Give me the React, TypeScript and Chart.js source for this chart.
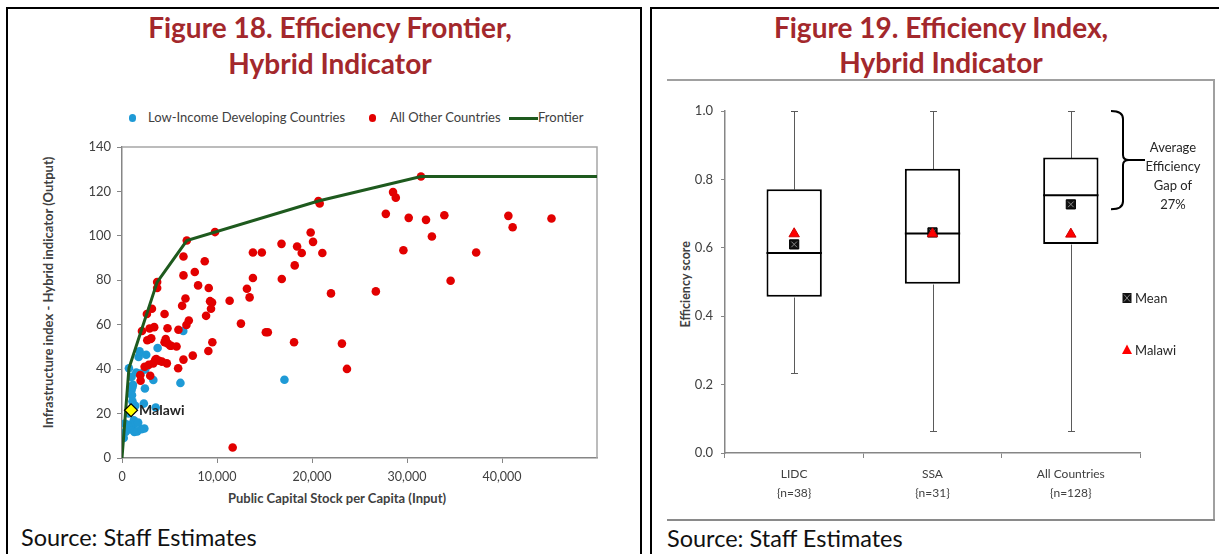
import React, { useEffect, useRef } from 'react';
import { Chart, registerables } from 'chart.js';

Chart.register(...registerables);

const FONT = 'Lato, "Noto Sans", sans-serif';
const TITLE_RED = '#A3282C';
const TEXT = '#404040';

// ---------- Figure 18 data ----------
const lidcX = [290, 180, 380, 490, 600, 730, 840, 1000, 1010, 1050, 1100, 1150, 1190, 1250, 1300, 1400, 1450, 1500, 1600, 1750, 1850, 1950, 2050, 2300, 2350, 2410, 2450, 2550, 3300, 3550, 3750, 6150, 6450, 17100, 1100, 700, 1700];
const lidcY = [15.5, 9, 11.7, 12.5, 15, 40.4, 14.8, 36.5, 30.6, 28.3, 25.5, 33, 12.5, 17, 11.7, 23.5, 15.8, 38.5, 12, 45.5, 48, 38, 13, 24.5, 13.3, 31.3, 39.9, 46.5, 35.1, 22.7, 49.5, 33.8, 57.2, 35.2, 32, 20, 16];

const otherX = [1920, 1960, 2100, 2380, 2620, 2660, 2800, 2900, 2970, 3010, 3150, 3290, 3390, 3600, 3700, 3700, 3900, 4200, 4480, 4480, 4600, 4720, 4790, 4800, 5180, 5740, 5910, 5940, 6330, 6470, 6470, 6470, 6680, 6780, 6820, 7030, 7450, 7660, 8010, 8710, 8850, 9090, 9130, 9270, 9370, 9480, 9510, 9790, 11330, 11650, 12520, 13150, 13430, 13780, 13780, 14720, 15140, 15350, 16790, 16820, 18110, 18180, 18430, 18920, 19860, 20110, 20670, 20810, 21090, 22000, 23150, 23680, 26720, 27770, 28530, 28820, 29620, 30180, 31470, 32000, 32620, 33930, 34590, 37280, 40670, 41120, 45210, 3080, 5080, 3500];
const otherY = [37.3, 34.8, 57.2, 41.1, 64.8, 53, 41.9, 58.3, 37, 53.6, 67.2, 42.6, 58.9, 44.5, 79.2, 76.5, 43.8, 43.4, 64.8, 52.1, 53.5, 42.6, 58.4, 51.6, 50.5, 50.2, 40.4, 57.7, 68.5, 44.3, 82.2, 90.7, 71.8, 59.9, 97.9, 61.9, 46.1, 83.7, 77.7, 88.6, 64, 48.2, 76.5, 70.6, 67.2, 70, 52.1, 101.7, 70.8, 4.7, 60.5, 76.2, 72.3, 81, 92.5, 92.5, 56.6, 56.6, 96.4, 80.6, 52.1, 86.7, 95.2, 92.3, 101.5, 97.3, 115.7, 114.6, 92.3, 74.1, 51.5, 40.1, 75, 109.9, 119.7, 117.2, 93.5, 108.1, 126.7, 107.2, 99.7, 109.3, 79.8, 92.5, 109, 103.9, 107.8, 53.9, 50.5, 44.2];

const frontierX = [0, 730, 3700, 6820, 20670, 31470, 50000];
const frontierY = [0, 40.4, 79.2, 97.9, 115.7, 126.7, 126.7];

const malawiX = [950];
const malawiY = [21.5];

const legend18 = ['Low-Income Developing Countries', 'All Other Countries', 'Frontier'];

// ---------- Figure 19 data ----------
const boxCategories = [['LIDC', '{n=38}'], ['SSA', '{n=31}'], ['All Countries', '{n=128}']];
const boxMin = [0.234, 0.064, 0.064];
const boxQ1 = [0.457, 0.495, 0.611];
const boxMedian = [0.585, 0.642, 0.754];
const boxQ3 = [0.771, 0.831, 0.864];
const boxMax = [1.0, 1.0, 1.0];
const boxMean = [0.61, 0.645, 0.727];
const malawiScore = [0.641, 0.641, 0.64];
const gapText = ['Average', 'Efficiency', 'Gap of', '27%'];
const gapRange = [1.0, 0.713];

// ---------- layout constants ----------
const C18 = { left: 60, top: 130, width: 560, height: 360 };
const C19 = { left: 660, top: 95, width: 560, height: 420 };

function Txt(props: { x: number; y: number; text: string; size: number; weight?: number; color?: string; align?: 'left' | 'center' }) {
  const { x, y, text, size, weight = 400, color = '#222', align = 'left' } = props;
  const top = y - 0.887 * size;
  const style: React.CSSProperties = {
    position: 'absolute',
    top,
    fontFamily: FONT,
    fontSize: size,
    fontWeight: weight,
    color,
    lineHeight: `${size}px`,
    whiteSpace: 'nowrap',
  };
  if (align === 'center') {
    style.left = x - 300;
    style.width = 600;
    style.textAlign = 'center';
  } else {
    style.left = x;
  }
  return <div style={style}>{text}</div>;
}

function VTxt(props: { cx: number; cy: number; text: string; size: number }) {
  const { cx, cy, text, size } = props;
  return (
    <div
      style={{
        position: 'absolute',
        left: cx - 250,
        top: cy - size / 2,
        width: 500,
        height: size,
        lineHeight: `${size}px`,
        textAlign: 'center',
        fontFamily: FONT,
        fontSize: size,
        fontWeight: 700,
        color: TEXT,
        transform: 'rotate(-90deg)',
        transformOrigin: '50% 50%',
        whiteSpace: 'nowrap',
      }}
    >
      {text}
    </div>
  );
}

function Box(props: { l: number; t: number; w: number; h: number; bg: string; r?: number }) {
  return (
    <div
      style={{
        position: 'absolute',
        left: props.l,
        top: props.t,
        width: props.w,
        height: props.h,
        background: props.bg,
        borderRadius: props.r || 0,
      }}
    />
  );
}

export default function App() {
  const ref18 = useRef<HTMLCanvasElement>(null);
  const ref19 = useRef<HTMLCanvasElement>(null);

  useEffect(() => {
    // ---------------- Figure 18 ----------------
    const plotFrame = {
      id: 'plotFrame',
      beforeDatasetsDraw(chart: any) {
        const { ctx, chartArea } = chart;
        ctx.save();
        ctx.strokeStyle = '#a6a6a6';
        ctx.lineWidth = 1.5;
        ctx.beginPath();
        ctx.moveTo(chartArea.left, chartArea.top);
        ctx.lineTo(chartArea.right, chartArea.top);
        ctx.lineTo(chartArea.right, chartArea.bottom);
        ctx.stroke();
        ctx.restore();
      },
    };
    const malawiLabel = {
      id: 'malawiLabel',
      afterDatasetsDraw(chart: any) {
        const meta = chart.getDatasetMeta(0);
        const el = meta.data[0];
        if (!el) return;
        const ctx = chart.ctx;
        ctx.save();
        ctx.font = `700 14px ${FONT}`;
        ctx.fillStyle = '#262626';
        ctx.textBaseline = 'middle';
        ctx.textAlign = 'left';
        ctx.fillText('Malawi', el.x + 8, el.y + 0.5);
        ctx.restore();
      },
    };

    const chart18 = new Chart(ref18.current as HTMLCanvasElement, {
      type: 'scatter',
      data: {
        datasets: [
          {
            label: 'Malawi',
            data: malawiX.map((x, i) => ({ x, y: malawiY[i] })),
            pointStyle: 'rectRot',
            pointRadius: 6.5,
            backgroundColor: '#FFFF00',
            borderColor: '#000000',
            borderWidth: 1.2,
            order: 0,
          },
          {
            label: legend18[2],
            data: frontierX.map((x, i) => ({ x, y: frontierY[i] })),
            showLine: true,
            borderColor: '#1E5A1E',
            backgroundColor: '#1E5A1E',
            borderWidth: 3,
            pointRadius: 0,
            order: 1,
          },
          {
            label: legend18[1],
            data: otherX.map((x, i) => ({ x, y: otherY[i] })),
            backgroundColor: '#E20000',
            borderColor: '#E20000',
            borderWidth: 0,
            pointRadius: 4.3,
            order: 2,
          },
          {
            label: legend18[0],
            data: lidcX.map((x, i) => ({ x, y: lidcY[i] })),
            backgroundColor: '#1E9AD6',
            borderColor: '#1E9AD6',
            borderWidth: 0,
            pointRadius: 4.3,
            order: 3,
          },
        ],
      } as any,
      options: {
        responsive: false,
        animation: false,
        events: [],
        layout: { padding: { top: 17, right: 23, left: 0, bottom: 0 } },
        plugins: { legend: { display: false }, tooltip: { enabled: false } },
        scales: {
          x: {
            type: 'linear',
            min: 0,
            max: 50000,
            afterFit: (s: any) => {
              s.height = 32;
            },
            ticks: {
              stepSize: 10000,
              color: TEXT,
              font: { family: FONT, size: 12.5 },
              padding: 6,
              maxRotation: 0,
              callback: (v: any) => (v >= 50000 ? '' : Number(v).toLocaleString('en-US')),
            },
            grid: {
              drawOnChartArea: false,
              drawTicks: true,
              tickLength: 5,
              color: (c: any) => (c.tick && c.tick.value >= 50000 ? 'rgba(0,0,0,0)' : '#868686'),
            },
            border: { display: true, color: '#868686', width: 1.5 },
          },
          y: {
            type: 'linear',
            min: 0,
            max: 140,
            afterFit: (s: any) => {
              s.width = 62;
            },
            ticks: {
              stepSize: 20,
              color: TEXT,
              font: { family: FONT, size: 13 },
              padding: 6,
            },
            grid: { drawOnChartArea: false, drawTicks: true, tickLength: 5, color: '#868686' },
            border: { display: true, color: '#868686', width: 1.5 },
          },
        },
      } as any,
      plugins: [plotFrame, malawiLabel],
    });

    // ---------------- Figure 19 ----------------
    const boxExtras = {
      id: 'boxExtras',
      beforeDatasetsDraw(chart: any) {
        const { ctx } = chart;
        const xs = chart.scales.x;
        const ys = chart.scales.y;
        ctx.save();
        ctx.strokeStyle = '#5a5a5a';
        ctx.lineWidth = 1;
        boxMin.forEach((mn, i) => {
          const cx = Math.round(xs.getPixelForValue(i)) + 0.5;
          const segs: number[][] = [
            [cx, ys.getPixelForValue(mn), cx, ys.getPixelForValue(boxQ1[i])],
            [cx - 3.5, ys.getPixelForValue(mn), cx + 3.5, ys.getPixelForValue(mn)],
            [cx, ys.getPixelForValue(boxQ3[i]), cx, ys.getPixelForValue(boxMax[i])],
            [cx - 3.5, ys.getPixelForValue(boxMax[i]), cx + 3.5, ys.getPixelForValue(boxMax[i])],
          ];
          segs.forEach(([a, b, c, d]) => {
            ctx.beginPath();
            ctx.moveTo(a, Math.round(b) + 0.5);
            ctx.lineTo(c, Math.round(d) + 0.5);
            ctx.stroke();
          });
        });
        ctx.restore();
      },
      afterDatasetDraw(chart: any, args: any) {
        if (args.index !== 0) return;
        const { ctx } = chart;
        const xs = chart.scales.x;
        const ys = chart.scales.y;
        const meta = chart.getDatasetMeta(0);
        ctx.save();
        ctx.strokeStyle = '#000';
        ctx.lineWidth = 2;
        boxMedian.forEach((md, i) => {
          const el = meta.data[i];
          const cx = xs.getPixelForValue(i);
          const hw = el.width / 2;
          const py = ys.getPixelForValue(md);
          ctx.beginPath();
          ctx.moveTo(cx - hw, py);
          ctx.lineTo(cx + hw, py);
          ctx.stroke();
        });
        ctx.restore();
      },
      afterDraw(chart: any) {
        const { ctx } = chart;
        const ys = chart.scales.y;
        const ca = chart.chartArea;
        ctx.save();
        // bracket
        const yTop = ys.getPixelForValue(gapRange[0]);
        const yBot = ys.getPixelForValue(gapRange[1]);
        const yMid = (yTop + yBot) / 2;
        const xEnd = ca.right - 29;
        const xV = ca.right - 17;
        const xTip = ca.right + 5;
        ctx.strokeStyle = '#000';
        ctx.lineWidth = 2;
        ctx.beginPath();
        ctx.moveTo(xEnd, yTop);
        ctx.quadraticCurveTo(xV, yTop, xV, yTop + 8);
        ctx.lineTo(xV, yMid - 5);
        ctx.quadraticCurveTo(xV, yMid, xV + 6, yMid);
        ctx.lineTo(xTip, yMid);
        ctx.moveTo(xV + 6, yMid);
        ctx.quadraticCurveTo(xV, yMid, xV, yMid + 5);
        ctx.lineTo(xV, yBot - 8);
        ctx.quadraticCurveTo(xV, yBot, xEnd, yBot);
        ctx.stroke();
        // bracket text
        ctx.fillStyle = '#262626';
        ctx.font = `400 13px ${FONT}`;
        ctx.textAlign = 'center';
        ctx.textBaseline = 'middle';
        gapText.forEach((t, i) => {
          ctx.fillText(t, ca.right + 33, yTop + 36.7 + i * 19.2);
        });
        // legend
        const lx = ca.right - 13;
        const lyMean = 203;
        const lyMal = 255;
        ctx.fillStyle = '#111';
        ctx.fillRect(lx - 4.5, lyMean - 5, 9, 10);
        ctx.strokeStyle = '#888';
        ctx.lineWidth = 1;
        ctx.beginPath();
        ctx.moveTo(lx - 3, lyMean - 3.5);
        ctx.lineTo(lx + 3, lyMean + 3.5);
        ctx.moveTo(lx + 3, lyMean - 3.5);
        ctx.lineTo(lx - 3, lyMean + 3.5);
        ctx.stroke();
        ctx.fillStyle = '#FF0000';
        ctx.beginPath();
        ctx.moveTo(lx, lyMal - 5.5);
        ctx.lineTo(lx + 5, lyMal + 4);
        ctx.lineTo(lx - 5, lyMal + 4);
        ctx.closePath();
        ctx.fill();
        ctx.fillStyle = '#262626';
        ctx.textAlign = 'left';
        ctx.fillText('Mean', lx + 8, lyMean + 0.5);
        ctx.fillText('Malawi', lx + 8, lyMal + 0.5);
        ctx.restore();
      },
    };

    const chart19 = new Chart(ref19.current as HTMLCanvasElement, {
      type: 'bar',
      data: {
        labels: boxCategories,
        datasets: [
          {
            type: 'bar',
            label: 'Box',
            data: boxQ1.map((q, i) => [q, boxQ3[i]]),
            backgroundColor: '#ffffff',
            borderColor: '#000000',
            borderWidth: 2,
            borderSkipped: false,
            barPercentage: 0.4,
            categoryPercentage: 1,
            order: 4,
          },
          {
            type: 'line',
            label: 'Mean',
            data: boxMean,
            showLine: false,
            pointStyle: 'rect',
            pointRadius: 6.5,
            backgroundColor: '#111111',
            borderColor: '#000000',
            borderWidth: 1,
            order: 3,
          },
          {
            type: 'line',
            label: 'MeanX',
            data: boxMean,
            showLine: false,
            pointStyle: 'crossRot',
            pointRadius: 4,
            borderColor: '#8a8a8a',
            borderWidth: 1,
            order: 2,
          },
          {
            type: 'line',
            label: 'Malawi',
            data: malawiScore,
            showLine: false,
            pointStyle: 'triangle',
            pointRadius: 6,
            backgroundColor: '#FF0000',
            borderColor: '#D00000',
            borderWidth: 1,
            order: 1,
          },
        ],
      } as any,
      options: {
        responsive: false,
        animation: false,
        events: [],
        layout: { padding: { top: 16, right: 80, left: 0, bottom: 0 } },
        plugins: { legend: { display: false }, tooltip: { enabled: false } },
        scales: {
          x: {
            afterFit: (s: any) => {
              s.height = 62;
            },
            ticks: {
              color: TEXT,
              font: { family: FONT, size: 12, lineHeight: 1.55 },
              padding: 7,
              maxRotation: 0,
            },
            grid: { drawOnChartArea: false, drawTicks: true, tickLength: 5, color: '#868686', offset: true },
            border: { display: true, color: '#868686', width: 1.5 },
          },
          y: {
            min: 0,
            max: 1,
            afterFit: (s: any) => {
              s.width = 65;
            },
            ticks: {
              stepSize: 0.2,
              color: TEXT,
              font: { family: FONT, size: 13 },
              padding: 8,
              callback: (v: any) => Number(v).toFixed(1),
            },
            grid: { drawOnChartArea: false, drawTicks: true, tickLength: 4, color: '#868686' },
            border: { display: true, color: '#868686', width: 1.5 },
          },
        },
      } as any,
      plugins: [boxExtras],
    });

    return () => {
      chart18.destroy();
      chart19.destroy();
    };
  }, []);

  return (
    <div
      style={{
        position: 'fixed',
        left: 0,
        top: 0,
        width: 1219,
        height: 554,
        background: '#ffffff',
        overflow: 'hidden',
      }}
    >
      {/* panel borders */}
      <Box l={6} t={7} w={2} h={547} bg="#000" />
      <Box l={6} t={7} w={636} h={2} bg="#000" />
      <Box l={640} t={7} w={2} h={547} bg="#000" />
      <Box l={650} t={7} w={2} h={547} bg="#000" />
      <Box l={650} t={7} w={569} h={2} bg="#000" />
      {/* right chart frame */}
      <Box l={667} t={79} w={548} h={2} bg="#a0a0a0" />
      <Box l={1213} t={79} w={2} h={442} bg="#a0a0a0" />
      <Box l={667} t={519} w={548} h={2} bg="#8a8a8a" />

      {/* titles */}
      <Txt x={330} y={37.5} text="Figure 18. Efficiency Frontier," size={28} weight={700} color={TITLE_RED} align="center" />
      <Txt x={330} y={73.5} text="Hybrid Indicator" size={28} weight={700} color={TITLE_RED} align="center" />
      <Txt x={941} y={38} text="Figure 19. Efficiency Index," size={28} weight={700} color={TITLE_RED} align="center" />
      <Txt x={941} y={72.5} text="Hybrid Indicator" size={28} weight={700} color={TITLE_RED} align="center" />

      {/* legend fig 18 */}
      <Box l={128.5} t={114} w={7.5} h={7.5} bg="#1E9AD6" r={4} />
      <Txt x={148} y={122.2} text={legend18[0]} size={13} color={TEXT} />
      <Box l={368.5} t={114} w={7.5} h={7.5} bg="#E20000" r={4} />
      <Txt x={390} y={122.2} text={legend18[1]} size={13} color={TEXT} />
      <Box l={509} t={116.5} w={29} h={3} bg="#1E5A1E" />
      <Txt x={538} y={122.2} text={legend18[2]} size={13} color={TEXT} />

      {/* axis titles */}
      <VTxt cx={48} cy={292.5} text="Infrastructure index - Hybrid indicator (Output)" size={13} />
      <Txt x={337} y={503.5} text="Public Capital Stock per Capita (Input)" size={13} weight={700} color={TEXT} align="center" />
      <VTxt cx={686} cy={284} text="Efficiency score" size={12.5} />

      {/* sources */}
      <Txt x={21} y={547} text="Source: Staff Estimates" size={23.5} color="#111" />
      <Txt x={667} y={548} text="Source: Staff Estimates" size={23.5} color="#111" />

      <canvas
        ref={ref18}
        width={C18.width}
        height={C18.height}
        style={{ position: 'absolute', left: C18.left, top: C18.top, width: C18.width, height: C18.height }}
      />
      <canvas
        ref={ref19}
        width={C19.width}
        height={C19.height}
        style={{ position: 'absolute', left: C19.left, top: C19.top, width: C19.width, height: C19.height }}
      />
    </div>
  );
}
